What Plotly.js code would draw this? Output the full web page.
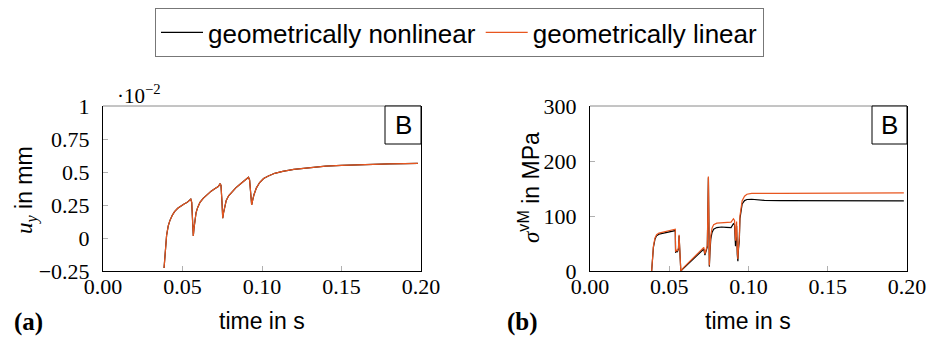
<!DOCTYPE html>
<html>
<head>
<meta charset="utf-8">
<script src="https://cdn.plot.ly/plotly-3.0.1.min.js"></script>
<style>
  html, body { margin: 0; padding: 0; background: #ffffff; }
  #chart { width: 928px; height: 339px; }
</style>
</head>
<body>
<div id="chart"></div>
<script>
// (a) vertical displacement u_y at point B, values in units of 1e-2 mm
const timeU = [0.0384, 0.0390, 0.0395, 0.0400, 0.0410, 0.0420, 0.0435, 0.0450, 0.0470, 0.0490,
  0.0510, 0.0530, 0.0545, 0.0552, 0.0558, 0.0563, 0.0568, 0.0572, 0.0578, 0.0585,
  0.0595, 0.0610, 0.0630, 0.0655, 0.0680, 0.0705, 0.0725, 0.0736, 0.0742, 0.0748,
  0.0753, 0.0758, 0.0765, 0.0775, 0.0790, 0.0810, 0.0835, 0.0860, 0.0885, 0.0905,
  0.0915, 0.0922, 0.0928, 0.0935, 0.0942, 0.0950, 0.0965, 0.0985, 0.1010, 0.1040,
  0.1080, 0.1130, 0.1200, 0.1300, 0.1400, 0.1500, 0.1600, 0.1700, 0.1800, 0.1900, 0.1980];
const uyNonlinear = [-0.227, -0.12, -0.04, 0.02, 0.09, 0.13, 0.17, 0.20, 0.225, 0.245,
  0.258, 0.27, 0.285, 0.295, 0.27, 0.14, 0.015, 0.07, 0.14, 0.19,
  0.23, 0.27, 0.30, 0.33, 0.355, 0.375, 0.39, 0.41, 0.40, 0.28,
  0.15, 0.19, 0.24, 0.285, 0.32, 0.35, 0.38, 0.405, 0.43, 0.445,
  0.46, 0.44, 0.35, 0.25, 0.29, 0.33, 0.38, 0.42, 0.45, 0.47,
  0.49, 0.505, 0.52, 0.535, 0.545, 0.55, 0.555, 0.558, 0.561, 0.564, 0.566];
const uyLinear = [-0.227, -0.12, -0.04, 0.02, 0.09, 0.13, 0.17, 0.20, 0.225, 0.245,
  0.258, 0.27, 0.285, 0.295, 0.27, 0.14, 0.015, 0.07, 0.14, 0.19,
  0.23, 0.27, 0.30, 0.33, 0.355, 0.375, 0.39, 0.41, 0.40, 0.28,
  0.15, 0.19, 0.24, 0.285, 0.32, 0.35, 0.38, 0.405, 0.43, 0.445,
  0.46, 0.44, 0.35, 0.25, 0.29, 0.33, 0.38, 0.42, 0.45, 0.47,
  0.49, 0.505, 0.52, 0.535, 0.545, 0.55, 0.555, 0.558, 0.561, 0.564, 0.566];

// (b) von Mises stress at point B in MPa
const timeS = [0.0389, 0.0395, 0.0400, 0.0410, 0.0420, 0.0435, 0.0455, 0.0480, 0.0505, 0.0530,
  0.0538, 0.0540, 0.0545, 0.0552, 0.0558, 0.0562, 0.0565, 0.0569, 0.0573, 0.0590,
  0.0620, 0.0650, 0.0680, 0.0705, 0.0718, 0.0725, 0.0732, 0.0740, 0.0747, 0.0753,
  0.0757, 0.0762, 0.0770, 0.0780, 0.0800, 0.0830, 0.0860, 0.0890, 0.0905, 0.0912,
  0.0918, 0.0922, 0.0925, 0.0929, 0.0933, 0.0937, 0.0942, 0.0946, 0.0952, 0.0960,
  0.0975, 0.0990, 0.1020, 0.1050, 0.1100, 0.1200, 0.1400, 0.1600, 0.1800, 0.1980];
const svmNonlinear = [0, 24, 43, 58, 64, 67, 68.5, 70, 71.5, 73,
  73.5, 33, 36, 35, 40, 64, 38, 9, 0, 5,
  13, 22, 30, 37, 40, 29, 38, 44, 170, 8,
  35, 58, 70, 76, 79, 80, 79.5, 79, 86, 84,
  45, 80, 82, 30, 18, 40, 55, 95, 112, 122,
  128, 130, 130.5, 129.5, 128.5, 128, 127.8, 127.6, 127.5, 127.5];
const svmLinear = [0, 25, 45, 60, 66, 69, 70.5, 72, 73.5, 75.5,
  76, 35, 38, 37, 42, 66, 40, 10, 0, 6,
  15, 24, 33, 40, 43, 31, 40, 46, 172, 10,
  40, 65, 78, 84, 87, 88, 88, 89, 95, 92,
  55, 88, 90, 40, 22, 45, 60, 100, 118, 128,
  136, 139.5, 141, 141.5, 141, 141, 141.5, 142, 142, 142];

const seriesNames = ['geometrically nonlinear', 'geometrically linear'];
const seriesColors = ['#000000', '#e8561f'];
const timeTicks = [0, 0.05, 0.1, 0.15, 0.2];
const uTicks = [-0.25, 0, 0.25, 0.5, 0.75, 1];
const uTickText = ['\u22120.25', '0', '0.25', '0.5', '0.75', '1'];
const sTicks = [0, 100, 200, 300];

const W = 928, H = 339;
const px = v => v / W;          // horizontal pixel -> paper
const py = v => 1 - v / H;      // vertical pixel (from top) -> paper

const serif = 'Liberation Serif, Times New Roman, serif';
const sans = 'Liberation Sans, Arial, Helvetica, sans-serif';

const traces = [
  { x: timeU, y: uyNonlinear, name: seriesNames[0], xaxis: 'x', yaxis: 'y', mode: 'lines',
    line: { color: seriesColors[0], width: 1.2 }, showlegend: true },
  { x: timeU, y: uyLinear, name: seriesNames[1], xaxis: 'x', yaxis: 'y', mode: 'lines',
    line: { color: seriesColors[1], width: 1.2 }, showlegend: true },
  { x: timeS, y: svmNonlinear, name: seriesNames[0], xaxis: 'x2', yaxis: 'y2', mode: 'lines',
    line: { color: seriesColors[0], width: 1.2 }, showlegend: false },
  { x: timeS, y: svmLinear, name: seriesNames[1], xaxis: 'x2', yaxis: 'y2', mode: 'lines',
    line: { color: seriesColors[1], width: 1.2 }, showlegend: false }
];

const yDomain = [py(271), py(106)];

function xAxis(domain, anchor) {
  return {
    domain: domain, anchor: anchor, range: [0, 0.2], tickvals: timeTicks, tickformat: '.2f',
    showgrid: false, zeroline: false, showline: true, linecolor: '#000', linewidth: 1,
    ticks: 'inside', ticklen: 5, tickcolor: '#b0b0b0', tickwidth: 1,
    tickfont: { family: serif, size: 22, color: '#000' }, ticklabelstandoff: -4
  };
}
function yAxis(anchor, range, vals, text) {
  const a = {
    domain: yDomain, anchor: anchor, range: range, tickvals: vals,
    showgrid: false, zeroline: false, showline: true, mirror: true, linecolor: '#000', linewidth: 1,
    ticks: 'inside', ticklen: 5, tickcolor: '#b0b0b0', tickwidth: 1,
    tickfont: { family: serif, size: 22, color: '#000' }, ticklabelstandoff: 8
  };
  if (text) a.ticktext = text;
  return a;
}

const annFont = { family: sans, size: 23, color: '#000' };
const centred = { xref: 'paper', yref: 'paper', xanchor: 'center', yanchor: 'middle', showarrow: false };
const annotations = [
  // axis titles
  Object.assign({ x: px(262), y: py(321), text: 'time in s', font: annFont }, centred),
  Object.assign({ x: px(748), y: py(321), text: 'time in s', font: annFont }, centred),
  Object.assign({ x: px(26), y: py(190), textangle: -90, font: annFont,
    text: '<span style="font-family:Liberation Serif"><i>u</i><sub><i>y</i></sub></span> in mm' }, centred),
  Object.assign({ x: px(529), y: py(188), textangle: -90, font: annFont,
    text: '<span style="font-family:Liberation Serif"><i>\u03c3</i></span><sup>vM</sup> in MPa' }, centred),
  // exponent of the left axis
  Object.assign({ x: px(139), y: py(94), font: { family: serif, size: 21, color: '#000' },
    text: '\u00b710<sup>\u22122</sup>' }, centred),
  // panel letters
  Object.assign({ x: px(28), y: py(322), font: { family: serif, size: 25, color: '#000' },
    text: '<b>(a)</b>' }, centred),
  Object.assign({ x: px(522), y: py(322), font: { family: serif, size: 25, color: '#000' },
    text: '<b>(b)</b>' }, centred),
  // point labels
  Object.assign({ x: px(403), y: py(125.5), text: 'B', font: { family: sans, size: 26, color: '#000' } }, centred),
  Object.assign({ x: px(889.5), y: py(125.5), text: 'B', font: { family: sans, size: 26, color: '#000' } }, centred)
];

// lighter top edge of each frame, and the boxes around the point labels
const shapes = ['x', 'x2'].map((xa, i) => ({
  type: 'line', xref: xa + ' domain', yref: (i ? 'y2' : 'y') + ' domain',
  x0: 0, x1: 1, y0: 1, y1: 1, line: { color: '#8a8a8a', width: 1 }
}));
[[385, 421], [872, 907]].forEach(([l, r]) => shapes.push({
  type: 'rect', xref: 'paper', yref: 'paper', x0: px(l), x1: px(r), y0: py(144), y1: py(106),
  fillcolor: '#fff', line: { color: '#000', width: 1 }
}));

const layout = {
  width: W, height: H,
  margin: { l: 0, r: 0, t: 0, b: 0 },
  paper_bgcolor: '#fff', plot_bgcolor: '#fff',
  xaxis: xAxis([px(103), px(421)], 'y'),
  yaxis: yAxis('x', [-0.25, 1], uTicks, uTickText),
  xaxis2: xAxis([px(590), px(907)], 'y2'),
  yaxis2: yAxis('x2', [0, 300], sTicks, null),
  showlegend: true,
  legend: {
    orientation: 'h', x: px(155), y: py(8), xanchor: 'left', yanchor: 'top',
    bordercolor: '#777', borderwidth: 1, bgcolor: '#fff',
    font: { family: sans, size: 26, color: '#000' }, itemwidth: 42
  },
  annotations: annotations,
  shapes: shapes
};

Plotly.newPlot('chart', traces, layout, { displayModeBar: false, staticPlot: true });
</script>
</body>
</html>
